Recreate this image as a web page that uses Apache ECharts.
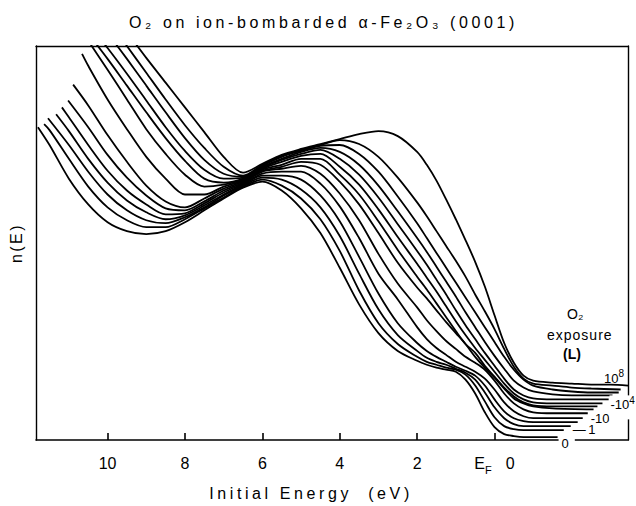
<!DOCTYPE html>
<html>
<head>
<meta charset="utf-8">
<script src="https://cdn.jsdelivr.net/npm/echarts@6/dist/echarts.min.js"></script>
<style>
  html, body { margin: 0; padding: 0; background: #fff; }
  #chart { width: 636px; height: 506px; }
</style>
</head>
<body>
<div id="chart"></div>
<script>
// Photoemission energy distribution curves n(E) of ion-bombarded alpha-Fe2O3 (0001)
// after increasing O2 exposure. Points are [initial energy below E_F (eV), n(E) (arb. units)].
const curve0 = [[11.8,316],[11.5,298],[11,264],[10.5,238],[10,220],[9.5,211],[9,208],[8.5,211],[8,220],[7.5,232],[7,244],[6.5,255],[6,261],[5.5,252],[5,234],[4.5,209],[4,174],[3.5,137],[3,108],[2.5,90],[2,80],[1.75,76],[1.5,73],[1.25,71],[1,69],[0.75,61],[0.5,47],[0.25,28],[0,13],[-0.25,6],[-0.5,4],[-0.75,3],[-1,3],[-1.5,3],[-1.63,3]];
const curve1 = [[11.64,319],[11.5,313],[11,284],[10.5,256],[10,235],[9.5,222],[9,215],[8.5,215],[8,223],[7.5,234],[7,245],[6.5,256],[6,263],[5.5,257],[5,244],[4.5,223],[4,191],[3.5,151],[3,118],[2.5,97],[2,84],[1.75,79],[1.5,76],[1.25,73],[1,71],[0.75,66],[0.5,55],[0.25,39],[0,23],[-0.25,14],[-0.5,11],[-0.75,10],[-1,10],[-1.5,10],[-1.79,10]];
const curve2 = [[11.54,325],[11,298],[10.5,271],[10,248],[9.5,232],[9,222],[8.5,219],[8,225],[7.5,235],[7,247],[6.5,257],[6,265],[5.5,263],[5,253],[4.5,235],[4,206],[3.5,168],[3,132],[2.5,106],[2,90],[1.75,83],[1.5,79],[1.25,76],[1,72],[0.75,68],[0.5,61],[0.25,48],[0,33],[-0.25,22],[-0.5,16],[-0.75,14],[-1,14],[-1.5,14],[-1.97,14]];
const curve3 = [[11.33,329],[11,312],[10.5,284],[10,260],[9.5,242],[9,230],[8.5,223],[8,227],[7.5,237],[7,248],[6.5,258],[6,267],[5.5,267],[5,263],[4.5,247],[4,221],[3.5,185],[3,148],[2.5,118],[2,98],[1.75,90],[1.5,84],[1.25,79],[1,74],[0.75,70],[0.5,65],[0.25,55],[0,41],[-0.25,29],[-0.5,22],[-0.75,19],[-1,18],[-1.5,18],[-2.15,18]];
const curve4 = [[11.18,336],[11,326],[10.5,298],[10,272],[9.5,252],[9,238],[8.5,228],[8,229],[7.5,239],[7,250],[6.5,259],[6,269],[5.5,271],[5,271],[4.5,259],[4,236],[3.5,204],[3,168],[2.5,142],[2,114],[1.75,102],[1.5,93],[1.25,86],[1,79],[0.75,74],[0.5,69],[0.25,62],[0,51],[-0.25,38],[-0.5,29],[-0.75,24],[-1,22],[-1.5,22],[-2.28,22]];
const curve5 = [[11.02,343],[10.5,316],[10,288],[9.5,265],[9,247],[8.5,234],[8,232],[7.5,241],[7,252],[6.5,260],[6,271],[5.5,274],[5,277],[4.5,269],[4,249],[3.5,222],[3,188],[2.5,158],[2,134],[1.75,121],[1.5,110],[1.25,100],[1,92],[0.75,84],[0.5,78],[0.25,71],[0,60],[-0.25,47],[-0.5,37],[-0.75,31],[-1,28],[-1.5,27],[-2.41,27]];
const curve6 = [[10.89,359],[10.5,338],[10,308],[9.5,281],[9,257],[8.5,241],[8,235],[7.5,244],[7,254],[6.5,261],[6,272],[5.5,276],[5,281],[4.5,278],[4,261],[3.5,238],[3,209],[2.5,179],[2,154],[1.75,143],[1.5,131],[1.25,119],[1,108],[0.75,97],[0.5,84],[0.25,73],[0,63],[-0.25,52],[-0.5,42],[-0.75,37],[-1,34],[-1.5,32],[-2.56,31]];
const curve7 = [[10.66,390],[10.5,378],[10,344],[9.5,314],[9,286],[8.5,264],[8,248],[7.5,248],[7,256],[6.5,262],[6,273],[5.5,278],[5,284],[4.5,284],[4,268],[3.5,248],[3,221],[2.5,192],[2,165],[1.75,152],[1.5,138],[1.25,124],[1,110],[0.75,97],[0.5,88],[0.25,75],[0,64],[-0.25,53],[-0.5,44],[-0.75,38],[-1,35],[-1.5,34],[-2.66,34]];
const curve8 = [[10.58,408],[10,374],[9.5,344],[9,314],[8.5,289],[8,268],[7.5,256],[7,258],[6.5,263],[6,274],[5.5,281],[5,287],[4.5,289],[4,276],[3.5,258],[3,233],[2.5,205],[2,178],[1.75,164],[1.5,150],[1.25,135],[1,120],[0.75,106],[0.5,93],[0.25,81],[0,69],[-0.25,57],[-0.5,47],[-0.75,41],[-1,38],[-1.5,37],[-2.79,37]];
const curve9 = [[10.45,408],[10,385],[9.5,358],[9,331],[8.5,305],[8,282],[7.5,264],[7,260],[6.5,264],[6,275],[5.5,283],[5,289],[4.5,293],[4,284],[3.5,268],[3,245],[2.5,218],[2,191],[1.75,177],[1.5,162],[1.25,147],[1,131],[0.75,116],[0.5,102],[0.25,88],[0,75],[-0.25,62],[-0.5,51],[-0.75,45],[-1,42],[-1.5,41],[-2.95,41]];
const curve10 = [[10.25,408],[10,396],[9.5,370],[9,343],[8.5,316],[8,292],[7.5,273],[7,264],[6.5,265],[6,276],[5.5,284],[5,291],[4.5,295],[4,291],[3.5,278],[3,257],[2.5,231],[2,204],[1.75,190],[1.5,175],[1.25,160],[1,145],[0.75,129],[0.5,114],[0.25,99],[0,85],[-0.25,72],[-0.5,60],[-0.75,53],[-1,49],[-1.5,46],[-2,45],[-3.05,45]];
const curve11 = [[9.94,408],[9.5,385],[9,358],[8.5,331],[8,305],[7.5,283],[7,269],[6.5,266],[6,277],[5.5,286],[5,292],[4.5,297],[4,298],[3.5,289],[3,271],[2.5,246],[2,219],[1.75,204],[1.5,189],[1.25,174],[1,159],[0.75,144],[0.5,129],[0.25,114],[0,99],[-0.25,84],[-0.5,71],[-0.75,61],[-1,55],[-1.5,51],[-2,49],[-2.5,48],[-3.21,48]];
const curve12 = [[9.68,408],[9.5,398],[9,371],[8.5,344],[8,318],[7.5,295],[7,276],[6.5,267],[6,278],[5.5,287],[5,293],[4.5,298],[4,303],[3.5,299],[3,286],[2.5,265],[2,240],[1.75,226],[1.5,211],[1.25,196],[1,181],[0.75,165],[0.5,147],[0.25,130],[0,112],[-0.25,92],[-0.5,74],[-0.75,62],[-1,57],[-1.5,55],[-2,53],[-2.5,52],[-3.26,51]];
const curve13 = [[9.42,408],[9,386],[8.5,361],[8,336],[7.5,311],[7,286],[6.5,270],[6,279],[5.5,288],[5,294],[4.5,299],[4,304],[3.5,309],[3,312],[2.5,307],[2,291],[1.75,278],[1.5,262],[1.25,243],[1,223],[0.75,202],[0.5,180],[0.25,155],[0,126],[-0.25,98],[-0.5,78],[-0.75,65],[-1,60],[-1.5,58],[-2,57],[-2.5,56],[-3,56],[-3.45,55]];

const curves = [curve0, curve1, curve2, curve3, curve4, curve5, curve6, curve7,
                curve8, curve9, curve10, curve11, curve12, curve13];

// exposure (Langmuir) written beside the end of some curves
const exposureLabels = ['0', '', '1', '', '', '10', '', '', '10^4', '', '', '', '', '10^8'];

// energy axis ticks (eV); 0 is the Fermi level
const energyTicks = [10, 8, 6, 4, 2, 0];
const energyMin = -3.45;
const energyMax = 11.85;
const intensityMax = 398;

const FONT = 'Liberation Sans';
const TITLE = 'O\u2082 on ion-bombarded \u03b1-Fe\u2082O\u2083 (0001)';
const X_NAME = 'Initial Energy  (eV)';
const Y_NAME = 'n(E)';

const chart = echarts.init(document.getElementById('chart'), null, { renderer: 'svg' });

const richSup = {
  n: { fontSize: 13, fontFamily: FONT, color: '#000', lineHeight: 16, verticalAlign: 'bottom' },
  s: { fontSize: 10, fontFamily: FONT, color: '#000', lineHeight: 16, verticalAlign: 'top' }
};

function labelText(raw, lead) {
  const parts = raw.split('^');
  if (parts.length === 2) return '{n|' + lead + parts[0] + '}{s|' + parts[1] + '}';
  return '{n|' + lead + raw + '}';
}

// where each exposure label sits relative to the end of its curve
const labelPlacement = {
  0: { offset: [1, 5], lead: '', bg: true, padding: [0, 6, 0, 3] },
  2: { offset: [2, 2], lead: '\u2014\u2009', bg: false, padding: 0 },
  5: { offset: [3, 4], lead: '-', bg: false, padding: 0 },
  8: { offset: [7, 4], lead: '-', bg: true, padding: [0, 1, 8, 1] },
  13: { offset: [-24, -9], lead: '', bg: false, padding: 0 }
};

const series = curves.map(function (data, i) {
  const lab = exposureLabels[i];
  const s = {
    type: 'line',
    data: data,
    smooth: 0.3,
    showSymbol: false,
    clip: true,
    silent: true,
    lineStyle: { color: '#000', width: 1.8 },
    z: lab ? 4 : 3
  };
  if (lab) {
    const pl = labelPlacement[i];
    s.endLabel = {
      show: true,
      align: 'left',
      distance: 0,
      offset: pl.offset,
      formatter: labelText(lab, pl.lead),
      rich: richSup,
      backgroundColor: pl.bg ? '#fff' : 'transparent',
      padding: pl.padding
    };
  }
  return s;
});

const option = {
  animation: false,
  backgroundColor: '#fff',
  title: [
    {
      text: TITLE, left: 124, top: 9,
      textStyle: { fontFamily: FONT, fontSize: 16, fontWeight: 'normal', color: '#000' }
    },
    {
      text: 'O\u2082', left: 562, top: 302,
      textStyle: { fontFamily: FONT, fontSize: 14, fontWeight: 'normal', color: '#000' }
    },
    {
      text: 'exposure', left: 542, top: 323,
      textStyle: { fontFamily: FONT, fontSize: 14, fontWeight: 'normal', color: '#000' }
    },
    {
      text: '(L)', left: 558, top: 342,
      textStyle: { fontFamily: FONT, fontSize: 14, fontWeight: 'bold', color: '#000' }
    }
  ],
  grid: { left: 36, right: 8, top: 46, bottom: 62, containLabel: false },
  xAxis: [
    {
      type: 'value', position: 'bottom', inverse: true,
      min: energyMin, max: energyMax,
      name: X_NAME, nameLocation: 'middle', nameGap: 45,
      nameTextStyle: { fontFamily: FONT, fontSize: 16, color: '#000', padding: [0, 42, 0, 0] },
      axisLine: { show: true, onZero: false, lineStyle: { color: '#000', width: 1.6 } },
      axisTick: { show: true, inside: true, length: 7, customValues: energyTicks,
                  lineStyle: { color: '#000', width: 1.6 } },
      axisLabel: {
        show: true, margin: 15, customValues: energyTicks,
        fontFamily: FONT, fontSize: 16, color: '#000',
        formatter: function (v) { return v === 0 ? '{e|E}{f|F}{g|}{z|0}' : String(v); },
        rich: {
          e: { fontFamily: FONT, fontSize: 16, color: '#000', lineHeight: 20, verticalAlign: 'top' },
          f: { fontFamily: FONT, fontSize: 11, color: '#000', lineHeight: 20, verticalAlign: 'bottom' },
          g: { width: 14 },
          z: { fontFamily: FONT, fontSize: 16, color: '#000', lineHeight: 20, verticalAlign: 'top' }
        }
      },
      splitLine: { show: false }
    },
    {
      type: 'value', position: 'top', inverse: true,
      min: energyMin, max: energyMax,
      axisLine: { show: true, onZero: false, lineStyle: { color: '#000', width: 1.4 } },
      axisTick: { show: false }, axisLabel: { show: false }, splitLine: { show: false }
    }
  ],
  yAxis: [
    {
      type: 'value', position: 'left', min: 0, max: intensityMax,
      name: Y_NAME, nameLocation: 'middle', nameGap: 12, nameRotate: 90,
      nameTextStyle: { fontFamily: FONT, fontSize: 16, color: '#000' },
      axisLine: { show: true, onZero: false, lineStyle: { color: '#000', width: 1.4 } },
      axisTick: { show: false }, axisLabel: { show: false }, splitLine: { show: false }
    },
    {
      type: 'value', position: 'right', min: 0, max: intensityMax,
      axisLine: { show: true, onZero: false, lineStyle: { color: '#000', width: 1.4 } },
      axisTick: { show: false }, axisLabel: { show: false }, splitLine: { show: false }
    }
  ],
  series: series
};

chart.setOption(option);

// wide tracking of the lettering in the heading, axis titles and side note
const tracking = {};
tracking[TITLE] = '3.6px';
tracking[X_NAME] = '3.6px';
tracking[Y_NAME] = '2.5px';
tracking['exposure'] = '1px';
function applyTracking() {
  document.querySelectorAll('#chart svg text').forEach(function (t) {
    const ls = tracking[t.textContent];
    if (ls) t.style.letterSpacing = ls;
  });
}
applyTracking();
chart.on('finished', applyTracking);
</script>
</body>
</html>
